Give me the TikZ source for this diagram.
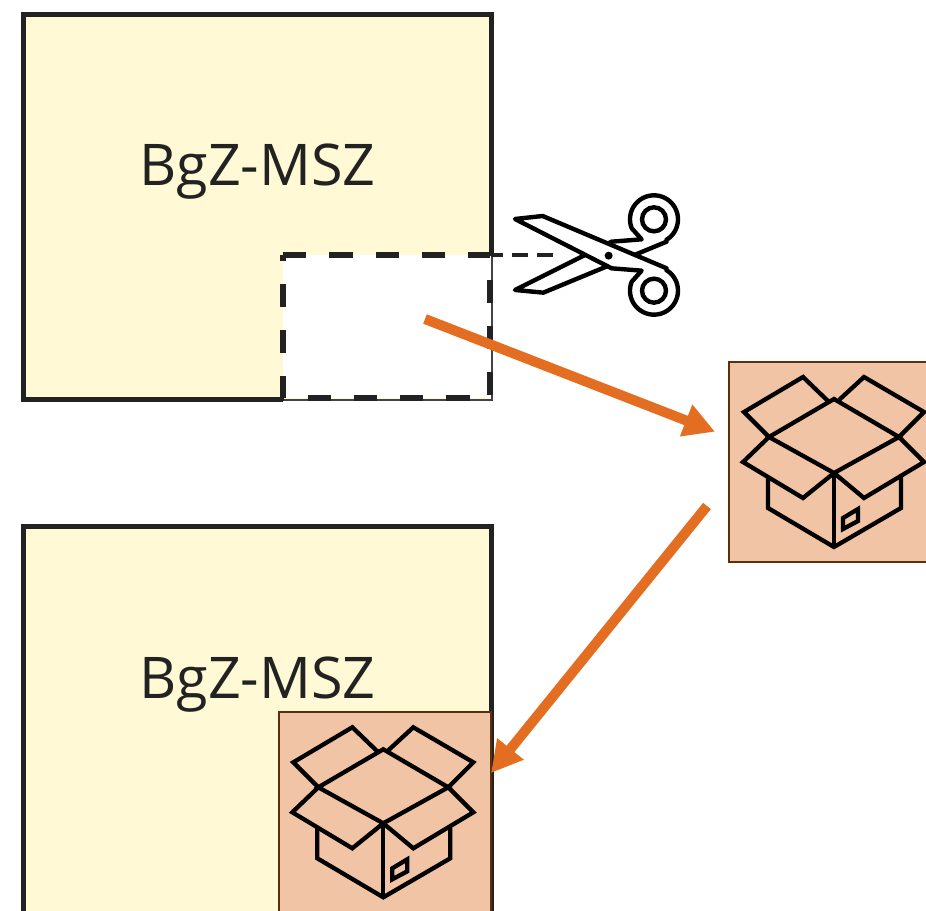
\documentclass[tikz,border=0pt]{standalone}
\usepackage{fontspec}
\setmainfont{Open Sans}
\usetikzlibrary{arrows.meta}
\definecolor{cream}{HTML}{FFF9D5}
\definecolor{ink}{HTML}{222222}
\definecolor{peach}{HTML}{F2C4A6}
\definecolor{brownedge}{HTML}{5E2F0E}
\definecolor{flow}{HTML}{E36E21}
\tikzset{
  x=1pt,y=-1pt,
  framed/.style={draw=ink,line width=5pt,line join=miter},
  cutline/.style={draw=ink,line width=5.5pt,dash pattern=on 23.2pt off 23.1pt},
  cratebox/.style={draw=brownedge,fill=peach,line width=2.5pt,rectangle,inner sep=0pt,outer sep=0pt},
  caption/.style={text=ink,font=\fontsize{57.5}{60}\selectfont,inner sep=0pt},
  flowarrow/.style={draw=flow,line width=10pt,-{Triangle[length=31pt,width=32pt]}},
  iconline/.style={draw=black,line width=4.3pt,line join=miter},
  scissorline/.style={draw=black,line width=4.4pt,line join=round,fill=white},
  boxicon/.pic={
    \draw[iconline] (-66,78) -- (-66,109) -- (0,148) -- (67,109) -- (67,78);
    \draw[iconline] (0,74) -- (0,148);
    \draw[iconline] (9,119) -- (24,110) -- (24,122) -- (9,130) -- cycle;
    \draw[iconline] (-65,38) -- (-90,13) -- (-31,-22) -- (-6,2);
    \draw[iconline] (65,38) -- (90,13) -- (30,-22) -- (5,1);
    \draw[iconline] (-65,38) -- (-91,63) -- (-31,99) -- (0,74);
    \draw[iconline] (65,38) -- (90,63) -- (30,99) -- (0,74);
    \draw[iconline] (0,0) -- (65,38) -- (0,74) -- (-65,38) -- cycle;
  }
}
\begin{document}
\begin{tikzpicture}
\useasboundingbox (0,0) rectangle (926,910);
\clip (0,0) rectangle (926,910);
\fill[white] (0,0) rectangle (926,910);
% top block with cut-out
\fill[cream] (23,13) rectangle (491,400);
\fill[white] (283,255) rectangle (492,398);
\draw[ink!85,line width=2pt] (283,399.5) -- (491.5,399.5) -- (491.5,255);
\draw[framed] (283,399.5) -- (23,399.5) -- (23,14) -- (491,14) -- (491,255);
\draw[cutline] (283,255) -- (490,255) -- (490,398) -- (283,398) -- cycle;
\node[caption] (topname) at (257.5,172) {BgZ-MSZ};
% scissors
\draw[draw=ink,line width=4pt,dash pattern=on 16pt off 9pt,dash phase=4pt] (491,254.5) -- (558,254.5);
\begin{scope}[shift={(500,180)},x=0.3333pt,y=-0.3333pt]
  \draw[scissorline] (45,330) -- (130,338) -- (500,185)
    -- plot[domain=60:-202,samples=50,smooth] ({462+72*cos(\x)},{118+72*sin(\x)})
    -- (425,178) -- (335,185) -- cycle;
  \draw[scissorline] (45,117) -- (128,108) -- (500,265)
    -- plot[domain=-60:202,samples=50,smooth] ({462+72*cos(\x)},{332+72*sin(\x)})
    -- (425,272) -- (335,265) -- cycle;
  \draw[black,line width=4.4pt] (462,118) circle[radius=36*1pt/3];
  \draw[black,line width=4.4pt] (462,332) circle[radius=36*1pt/3];
  \fill[black] (326,227) circle[radius=4pt];
\end{scope}
% crate at right
\node[cratebox,anchor=north west,minimum width=210pt,minimum height=200pt] (crate) at (729,362) {};
\pic at (834,399) {boxicon};
% bottom block
\fill[cream] (23,525) rectangle (491,930);
\draw[framed] (23,930) -- (23,526) -- (491,526) -- (491,930);
\node[caption] (bottomname) at (257.5,685) {BgZ-MSZ};
\node[cratebox,anchor=north west,minimum width=212pt,minimum height=220pt] (slot) at (279,712) {};
\pic at (383.3,749.3) {boxicon};
% arrows
\coordinate (cutcentre) at (425,319);
\coordinate (cratein) at (715,431.7);
\coordinate (crateout) at (707,506);
\coordinate (slotin) at (491,773);
\draw[flowarrow] (cutcentre) -- (cratein);
\draw[flowarrow] (crateout) -- (slotin);
\end{tikzpicture}
\end{document}
